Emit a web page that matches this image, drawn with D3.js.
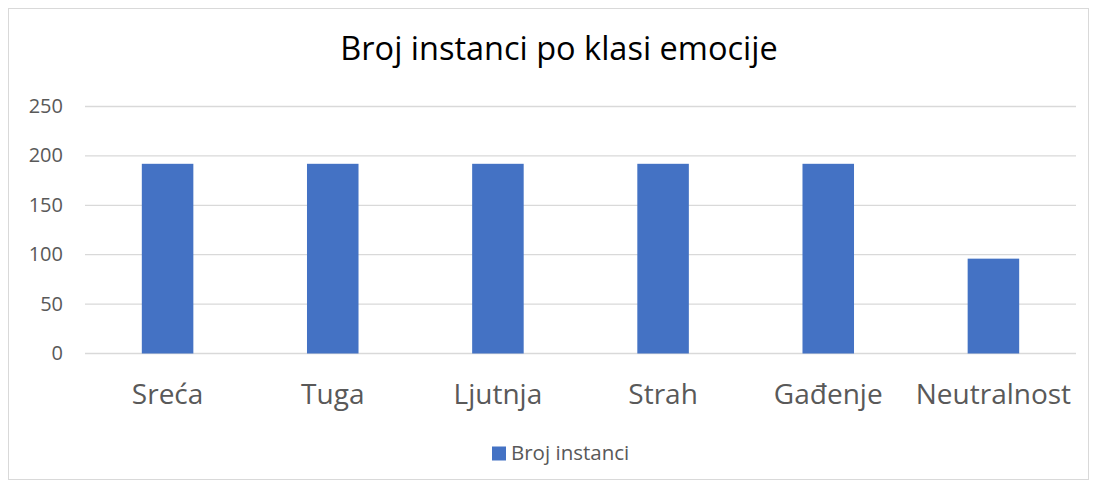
<!DOCTYPE html>
<html><head><meta charset="utf-8">
<script src="https://cdn.jsdelivr.net/npm/d3@7"></script>
<style>body{margin:0;background:#fff;} text{font-family:"Open Sans","Noto Sans",sans-serif;}</style>
</head><body>
<svg id="c" width="1097" height="488"></svg>
<script>
const categories = ["Sreća","Tuga","Ljutnja","Strah","Gađenje","Neutralnost"];
const values = [192,192,192,192,192,96];
const yTicks = [0,50,100,150,200,250];
const seriesName = "Broj instanci";
const title = "Broj instanci po klasi emocije";

(function(){
const svg = d3.select("#c");
svg.append("rect").attr("x",8.5).attr("y",8.5).attr("width",1080).attr("height",471)
  .attr("fill","#fff").attr("stroke","#d9d9d9");

const pL=85,pR=1076,pT=106.5,pB=353.5;
const x = d3.scaleBand().domain(categories).range([pL,pR]).padding(0);
const y = d3.scaleLinear().domain([0,250]).range([pB,pT]);

svg.append("g").selectAll("line").data(yTicks).join("line")
  .attr("x1",pL).attr("x2",pR).attr("y1",d=>y(d)).attr("y2",d=>y(d))
  .attr("stroke","#d9d9d9").attr("stroke-width",1.3);

const yAxis = d3.axisLeft(y).tickValues(yTicks).tickSize(0).tickPadding(0);
const ga = svg.append("g").attr("transform",`translate(63,0)`).call(yAxis);
ga.select(".domain").remove();
ga.selectAll("text").attr("font-size",20).attr("fill","#595959").attr("font-family","Open Sans").attr("dy","0.3em");

const bw = x.bandwidth()*0.312;
svg.append("g").selectAll("rect").data(values).join("rect")
  .attr("x",(d,i)=>x(categories[i])+x.bandwidth()/2-bw/2)
  .attr("width",bw)
  .attr("y",d=>y(d)).attr("height",d=>y(0)-y(d))
  .attr("fill","#4472c4");

const xAxis = d3.axisBottom(x).tickSize(0).tickPadding(0);
const gx = svg.append("g").attr("transform",`translate(0,${pB})`).call(xAxis);
gx.select(".domain").remove();
gx.selectAll("text").attr("font-size",28).attr("fill","#595959").attr("dy",0).attr("y",50).attr("font-family","Open Sans");

svg.append("text").attr("x",559).attr("y",59.5).attr("text-anchor","middle")
  .attr("font-size",32.5).attr("fill","#000").text(title);

svg.append("rect").attr("x",492).attr("y",446.5).attr("width",14).attr("height",14).attr("fill","#4472c4");
svg.append("text").attr("x",511).attr("y",459.5).attr("font-size",20.5).attr("fill","#595959").text(seriesName);
})();
</script>
</body></html>
